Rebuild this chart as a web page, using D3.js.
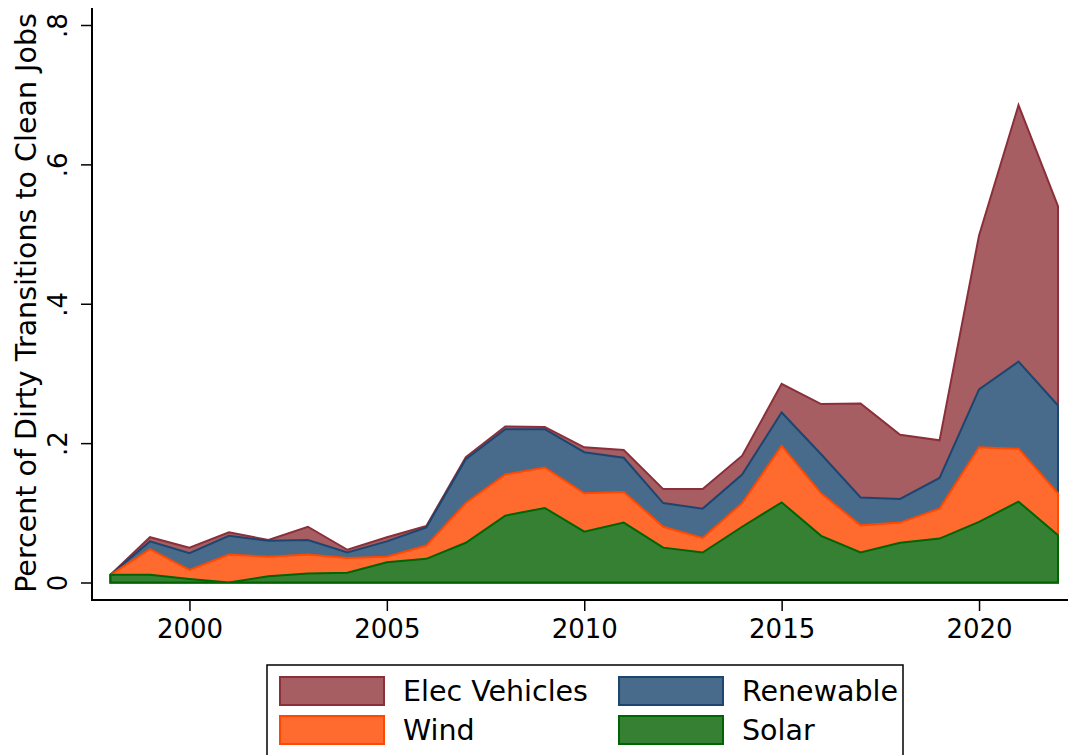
<!DOCTYPE html>
<html>
<head>
<meta charset="utf-8">
<script src="https://cdn.jsdelivr.net/npm/d3@7"></script>
<style>
  html, body { margin: 0; padding: 0; background: #ffffff; }
  svg { display: block; font-family: "DejaVu Sans", sans-serif; }
</style>
</head>
<body>
<svg id="chart" width="1068" height="755"></svg>
<script>
// ---- Data ----
const years = [1998,1999,2000,2001,2002,2003,2004,2005,2006,2007,2008,2009,2010,2011,2012,2013,2014,2015,2016,2017,2018,2019,2020,2021,2022];
const solar = [0.011,0.011,0.005,0.000,0.009,0.013,0.014,0.029,0.034,0.057,0.096,0.107,0.073,0.086,0.050,0.043,0.080,0.115,0.067,0.043,0.057,0.063,0.087,0.116,0.068];
const wind = [0.000,0.037,0.013,0.040,0.028,0.027,0.021,0.008,0.019,0.057,0.059,0.058,0.055,0.044,0.030,0.021,0.034,0.081,0.061,0.039,0.029,0.043,0.107,0.076,0.060];
const renewable = [0.000,0.011,0.024,0.027,0.023,0.021,0.008,0.022,0.026,0.063,0.065,0.055,0.059,0.049,0.034,0.042,0.041,0.048,0.056,0.040,0.034,0.044,0.083,0.125,0.126];
const elecVehicles = [0.000,0.006,0.008,0.005,0.001,0.019,0.004,0.006,0.002,0.003,0.004,0.003,0.007,0.011,0.020,0.028,0.027,0.041,0.072,0.135,0.092,0.054,0.221,0.368,0.286];
const seriesNames = ["Solar","Wind","Renewable","Elec Vehicles"];
const xTicks = [2000,2005,2010,2015,2020];
const yTicks = [0,0.2,0.4,0.6,0.8];

const fills   = {"Solar":"#368034","Wind":"#ff6a2f","Renewable":"#486b8c","Elec Vehicles":"#a65e62"};
const strokes = {"Solar":"#006400","Wind":"#ff4800","Renewable":"#1c4670","Elec Vehicles":"#8b2f3a"};

const table = years.map((y,i) => ({year:y, "Solar":solar[i], "Wind":wind[i], "Renewable":renewable[i], "Elec Vehicles":elecVehicles[i]}));
const stacked = d3.stack().keys(seriesNames)(table);

const svg = d3.select("#chart");
const x = d3.scaleLinear().domain([1998,2022]).range([110.5,1058]);
const y = d3.scaleLinear().domain([0,0.8]).range([582.5,25]);

// areas: drawn from baseline to cumulative top, largest first
const area = d3.area().x(d => x(d.data.year)).y0(y(0)).y1(d => y(d[1]));
const drawOrder = stacked.slice().reverse();
svg.append("g").selectAll("path").data(drawOrder).join("path")
  .attr("d", area)
  .attr("fill", d => fills[d.key])
  .attr("stroke", d => strokes[d.key])
  .attr("stroke-width", 2)
  .attr("stroke-linejoin", "miter");

// axis lines
svg.append("line").attr("x1",92).attr("x2",92).attr("y1",8).attr("y2",601)
  .attr("stroke","#000").attr("stroke-width",2);
svg.append("line").attr("x1",91).attr("x2",1068).attr("y1",600).attr("y2",600)
  .attr("stroke","#000").attr("stroke-width",2);

// y axis
const fmt = d => d === 0 ? "0" : d3.format(".1f")(d).replace(/^0/, "");
const yAxis = svg.append("g").attr("transform","translate(92,0)")
  .call(d3.axisLeft(y).tickValues(yTicks).tickFormat(fmt).tickSize(11).tickSizeOuter(0));
yAxis.select(".domain").remove();
yAxis.selectAll(".tick line").attr("stroke","#000").attr("stroke-width",1.5);
yAxis.selectAll(".tick text")
  .attr("transform","rotate(-90)")
  .attr("x",0).attr("y",-25).attr("dy",null)
  .attr("text-anchor","middle")
  .attr("fill","#000")
  .style("font-family","'DejaVu Sans', sans-serif")
  .style("font-size","26px");

// x axis
const xAxis = svg.append("g").attr("transform","translate(0,600)")
  .call(d3.axisBottom(x).tickValues(xTicks).tickFormat(d3.format("d")).tickSize(11).tickSizeOuter(0));
xAxis.select(".domain").remove();
xAxis.selectAll(".tick line").attr("stroke","#000").attr("stroke-width",1.5);
xAxis.selectAll(".tick text")
  .attr("y",38).attr("dy",null)
  .attr("fill","#000")
  .style("font-family","'DejaVu Sans', sans-serif")
  .style("font-size","26px");

// y title
svg.append("text")
  .attr("transform","translate(36,303) rotate(-90)")
  .attr("text-anchor","middle")
  .style("font-size","28.5px")
  .attr("fill","#000")
  .text("Percent of Dirty Transitions to Clean Jobs");

// legend
const legend = svg.append("g");
legend.append("rect").attr("x",267).attr("y",665).attr("width",636).attr("height",100)
  .attr("fill","#fff").attr("stroke","#000").attr("stroke-width",1.5);
const legendItems = [
  {key:"Elec Vehicles", col:0, row:0},
  {key:"Renewable", col:1, row:0},
  {key:"Wind", col:0, row:1},
  {key:"Solar", col:1, row:1}
];
const colX = [280, 619];
const rowY = [677, 716];
const li = legend.selectAll("g.item").data(legendItems).join("g").attr("class","item");
li.append("rect")
  .attr("x", d => colX[d.col]).attr("y", d => rowY[d.row])
  .attr("width",104).attr("height",28)
  .attr("fill", d => fills[d.key]).attr("stroke", d => strokes[d.key]).attr("stroke-width",2);
li.append("text")
  .attr("x", d => colX[d.col] + 123).attr("y", d => rowY[d.row] + 24)
  .style("font-size","28.5px").attr("fill","#000")
  .text(d => d.key);
</script>
</body>
</html>
